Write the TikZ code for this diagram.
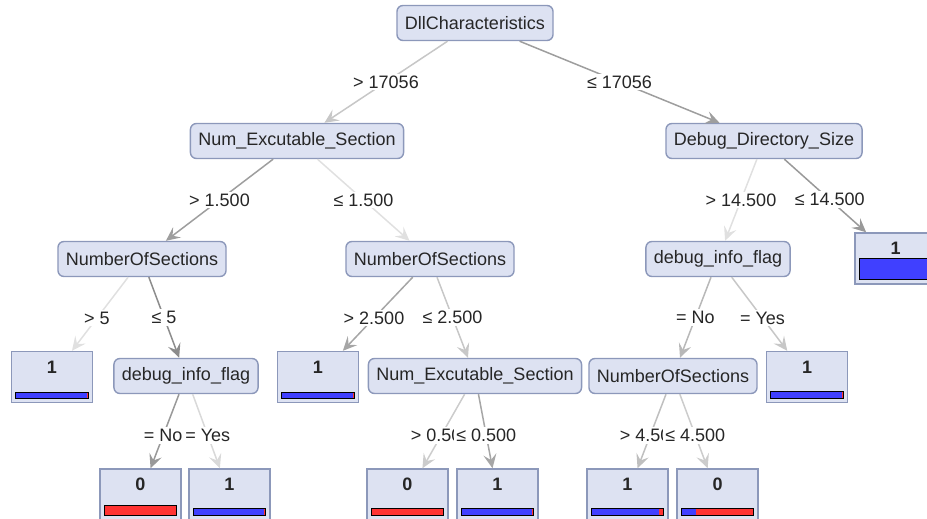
\documentclass[tikz,border=0pt]{standalone}
\usepackage{fontspec}
\setmainfont{Liberation Sans}
\usetikzlibrary{arrows.meta, calc}
\definecolor{nodefill}{RGB}{221,226,242}
\definecolor{nodeline}{RGB}{140,152,186}
\definecolor{barblue}{RGB}{64,64,255}
\definecolor{barred}{RGB}{255,51,51}

% class bar inside a leaf: node, height, share of class 1
\newcommand{\classbar}[3]{%
  \fill[barred] ($(#1.south west)+(5,-5)$) rectangle ($(#1.south east)+(-5,-5-#2)$);
  \fill[barblue] ($(#1.south west)+(5,-5)$) rectangle ($(#1.south west)+(5+71*#3,-5-#2)$);
  \draw[line width=0.6pt] ($(#1.south west)+(5,-5)$) rectangle ($(#1.south east)+(-5,-5-#2)$);
}

\begin{document}
\begin{tikzpicture}[
        x=0.5pt, y=-0.5pt,
        font=\fontsize{9}{10}\selectfont, text=black!85,
        box/.style={draw=nodeline, fill=nodefill, rounded corners=3pt, line width=0.7pt, minimum height=17.5pt, inner xsep=4pt},
        leaf/.style={draw=nodeline, fill=nodefill, line width=0.7pt, minimum width=40.5pt, minimum height=25.5pt, inner ysep=1.5pt, text height=9.25pt, text depth=13.25pt, font=\fontsize{9}{10}\selectfont\bfseries},
        arr/.style={-{Stealth[length=7pt,width=6.5pt,inset=2.8pt]}, line width=0.75pt, draw=black!#1},
        lbl/.style={fill=white, inner sep=1pt}
    ]
        \clip (0,0) rectangle (927,519);

        \node[box] (dll)  at (475,23)  {DllCharacteristics};
        \node[box] (nes1) at (297,141) {Num\_Excutable\_Section};
        \node[box] (dds)  at (764,141) {Debug\_Directory\_Size};
        \node[box] (nos1) at (142,259) {NumberOfSections};
        \node[box] (nos2) at (430,259) {NumberOfSections};
        \node[box] (dif1) at (718,259) {debug\_info\_flag};
        \node[leaf] (lf1) at (895.5,258.5) {1};
        \node[leaf] (lf2) at (52,377)  {1};
        \node[box] (dif2) at (186,376) {debug\_info\_flag};
        \node[leaf] (lf3) at (318,377) {1};
        \node[box] (nes2) at (475,376) {Num\_Excutable\_Section};
        \node[box] (nos3) at (673,376) {NumberOfSections};
        \node[leaf] (lf4) at (807,377) {1};
        \node[leaf] (lf5) at (140.5,494.5) {0};
        \node[leaf] (lf6) at (229.5,494.5) {1};
        \node[leaf] (lf7) at (407.5,494.5) {0};
        \node[leaf] (lf8) at (497.5,494.5) {1};
        \node[leaf] (lf9) at (627.5,494.5) {1};
        \node[leaf] (lf10) at (717.5,494.5) {0};

        \classbar{lf1}{21}{1}
        \classbar{lf2}{6}{1}
        \classbar{lf3}{6}{1}
        \classbar{lf4}{7}{1}
        \classbar{lf5}{10}{0}
        \classbar{lf6}{7}{1}
        \classbar{lf7}{7}{0}
        \classbar{lf8}{7}{1}
        \classbar{lf9}{7}{0.96}
        \classbar{lf10}{7}{0.2}

        % labels sit halfway between the node centres
        \draw[arr=22] (dll)  -- (nes1) node[lbl] at ($(dll)!.5!(nes1)$) {> 17056};
        \draw[arr=38] (dll)  -- (dds)  node[lbl] at ($(dll)!.5!(dds)$) {≤ 17056};
        \draw[arr=38] (nes1) -- (nos1) node[lbl] at ($(nes1)!.5!(nos1)$) {> 1.500};
        \draw[arr=12] (nes1) -- (nos2) node[lbl] at ($(nes1)!.5!(nos2)$) {≤ 1.500};
        \draw[arr=12] (dds)  -- (dif1) node[lbl] at ($(dds)!.5!(dif1)$) {> 14.500};
        \draw[arr=40] (dds)  -- (lf1)  node[lbl] at ($(dds)!.5!(lf1)$) {≤ 14.500};
        \draw[arr=12] (nos1) -- (lf2)  node[lbl] at ($(nos1)!.5!(lf2)$) {> 5};
        \draw[arr=45] (nos1) -- (dif2) node[lbl] at ($(nos1)!.5!(dif2)$) {≤ 5};
        \draw[arr=35] (nos2) -- (lf3)  node[lbl] at ($(nos2)!.5!(lf3)$) {> 2.500};
        \draw[arr=22] (nos2) -- (nes2) node[lbl] at ($(nos2)!.5!(nes2)$) {≤ 2.500};
        \draw[arr=28] (dif1) -- (nos3) node[lbl] at ($(dif1)!.5!(nos3)$) {= No};
        \draw[arr=22] (dif1) -- (lf4)  node[lbl] at ($(dif1)!.5!(lf4)$) {= Yes};
        \draw[arr=40] (dif2) -- (lf5)  node[lbl] at ($(dif2)!.5!(lf5)$) {= No};
        \draw[arr=15] (dif2) -- (lf6)  node[lbl] at ($(dif2)!.5!(lf6)$) {= Yes};
        \draw[arr=20] (nes2) -- (lf7)  node[lbl] at ($(nes2)!.5!(lf7)$) {> 0.500};
        \draw[arr=35] (nes2) -- (lf8)  node[lbl] at ($(nes2)!.5!(lf8)$) {≤ 0.500};
        \draw[arr=25] (nos3) -- (lf9)  node[lbl] at ($(nos3)!.5!(lf9)$) {> 4.500};
        \draw[arr=20] (nos3) -- (lf10) node[lbl] at ($(nos3)!.5!(lf10)$) {≤ 4.500};
    \end{tikzpicture}
\end{document}
